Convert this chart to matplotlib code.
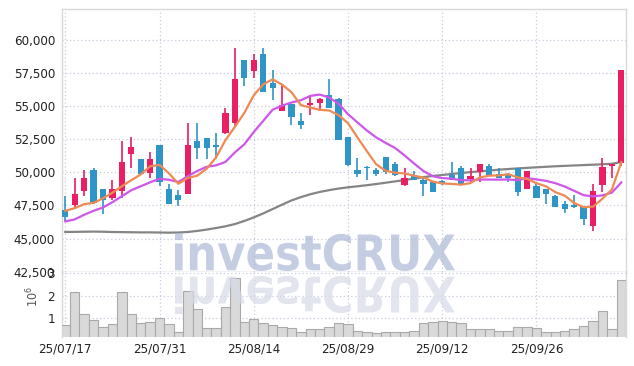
import matplotlib
matplotlib.use("Agg")
import matplotlib.pyplot as plt
import numpy as np
from matplotlib.textpath import TextPath
from matplotlib.patches import PathPatch
from matplotlib.font_manager import FontProperties
from matplotlib.transforms import Affine2D

# daily OHLC (KRW)
opens = [47150, 47500, 48600, 50200, 48750, 48100, 48600, 51400, 51000, 49950,
         52050, 48750, 48300, 48400, 52400, 52600, 52050, 52950, 53700, 58450,
         57650, 58950, 56750, 54600, 55150, 53900, 55050, 55200, 55850, 55500,
         52650, 50200, 50400, 50150, 51150, 50650, 49050, 49750, 49400, 49300,
         49350, 49800, 50300, 49500, 50000, 50500, 49900, 49800, 50300, 48750,
         49000, 48750, 48200, 47650, 47500, 47400, 45950, 49050, 50450, 50700]
highs = [48250, 49550, 50150, 50300, 48750, 49400, 52400, 52700, 51000, 51550,
         52050, 49100, 48700, 53700, 53700, 52600, 52950, 54850, 59350, 58450,
         58950, 59350, 57750, 56700, 55150, 54450, 55850, 55600, 57050, 55600,
         52650, 51100, 50450, 50300, 51150, 50750, 50300, 50100, 49600, 49300,
         49400, 50800, 50450, 50350, 50650, 50600, 50350, 49950, 50300, 50100,
         49100, 48750, 48300, 47850, 48300, 47400, 49100, 51100, 50650, 57700]
lows = [46350, 47350, 48250, 47650, 46850, 47900, 48100, 50350, 49850, 49550,
        49000, 47650, 47450, 48350, 51000, 51000, 51000, 52900, 53400, 56550,
        57100, 56050, 55450, 54600, 53550, 53250, 54350, 54650, 54850, 52450,
        50450, 49650, 49400, 49700, 49850, 49750, 49000, 49450, 48250, 48500,
        49050, 49450, 49150, 49300, 49300, 49750, 49550, 49250, 48250, 48750,
        48050, 47600, 47400, 46900, 47300, 46000, 45550, 48500, 49600, 50450]
closes = [46600, 48400, 49600, 47700, 47900, 48750, 50800, 51900, 49850, 51000,
          49250, 47650, 47950, 52050, 51850, 51850, 51950, 54500, 57050, 57100,
          58500, 56050, 56400, 55100, 54200, 53600, 55200, 55500, 54850, 52450,
          50550, 49850, 50300, 49850, 50050, 49800, 49600, 49450, 49150, 48500,
          49100, 49450, 49150, 49750, 50650, 49750, 49550, 49600, 48550, 50100,
          48100, 48400, 47400, 47200, 47350, 46500, 48600, 50400, 50650, 57700]

# moving average lines as drawn
ma5 = [47100, 47300, 47600, 47700, 48040, 48470, 48950, 49410, 49840, 50460,
       50560, 49930, 49140, 49580, 49750, 50270, 51130, 52440, 53440, 54490,
       55820, 56640, 57020, 56630, 56050, 55070, 54900, 54720, 54670, 54320,
       53710, 52640, 51600, 50600, 50120, 49970, 49920, 49750, 49610, 49300,
       49160, 49130, 49070, 49190, 49620, 49750, 49770, 49860, 49620, 49510,
       49180, 48950, 48510, 48240, 47690, 47370, 47410, 48010, 48700, 50770]
ma10 = [46300, 46450, 46800, 47100, 47350, 47750, 48200, 48650, 48950, 49250,
        49515, 49440, 49275, 49710, 50105, 50415, 50530, 50790, 51510, 52120,
        53045, 53885, 54730, 55035, 55270, 55445, 55770, 55870, 55650, 55185,
        54390, 53770, 53160, 52635, 52220, 51840, 51280, 50675, 50105, 49710,
        49565, 49525, 49410, 49400, 49460, 49455, 49450, 49465, 49405, 49565,
        49465, 49360, 49185, 48930, 48605, 48280, 48185, 48265, 48475, 49235]
ma_long = [45500, 45510, 45520, 45530, 45520, 45500, 45490, 45480, 45470, 45470,
           45460, 45450, 45460, 45500, 45580, 45680, 45800, 45930, 46100, 46330,
           46600, 46900, 47230, 47560, 47880, 48130, 48350, 48520, 48660, 48780,
           48870, 48950, 49030, 49120, 49220, 49320, 49420, 49530, 49640, 49730,
           49800, 49880, 49950, 50020, 50080, 50140, 50200, 50250, 50300, 50340,
           50380, 50420, 50460, 50490, 50520, 50550, 50580, 50610, 50650, 50780]

# volume in millions of shares
volume = [0.70, 2.15, 1.18, 0.91, 0.62, 0.73, 2.15, 1.18, 0.78, 0.82,
          1.01, 0.75, 0.38, 2.21, 1.41, 0.56, 0.56, 1.49, 2.77, 0.85,
          0.96, 0.78, 0.70, 0.63, 0.58, 0.38, 0.51, 0.51, 0.63, 0.78,
          0.73, 0.42, 0.38, 0.34, 0.38, 0.38, 0.38, 0.42, 0.78, 0.82,
          0.88, 0.82, 0.78, 0.51, 0.51, 0.51, 0.42, 0.42, 0.60, 0.60,
          0.56, 0.38, 0.38, 0.42, 0.51, 0.66, 0.88, 1.31, 0.51, 2.69]

date_labels = ["25/07/17", "25/07/31", "25/08/14", "25/08/29", "25/09/12", "25/09/26"]
date_ticks = [0, 10, 20, 30, 40, 50]

UP = "#e91e63"
DOWN = "#2f94c6"
GRID = "#c9cce0"
SPINE = "#d8d8d8"

plt.rcParams["font.family"] = ["DejaVu Sans"]
plt.rcParams["font.stretch"] = "condensed"

W, H = 634, 366
fig = plt.figure(figsize=(W / 100, H / 100), dpi=100)
ax = fig.add_axes([62 / W, 1 - 272 / H, 564 / W, 263 / H])
axv = fig.add_axes([62 / W, 1 - 337 / H, 564 / W, 65 / H], sharex=ax)

x = np.arange(len(closes))
o = np.array(opens)
c = np.array(closes)
up = c >= o
cols = np.where(up, UP, DOWN)

ax.vlines(x, lows, highs, colors=cols, linewidth=1.2, zorder=3)
body_h = np.maximum(np.abs(c - o), 60)
ax.bar(x, body_h, bottom=np.minimum(o, c), width=0.66, color=cols, zorder=4)

ax.plot(x, ma_long, color="#858585", linewidth=1.6, zorder=2)
ax.plot(x, ma10, color="#cf56ea", linewidth=1.6, zorder=5)
ax.plot(x, ma5, color="#ee8a52", linewidth=1.6, zorder=5)

ax.set_xlim(-0.35, 59.5)
ax.set_ylim(42480, 62330)
ax.set_yticks(np.arange(42500, 60001, 2500))
ax.set_yticklabels([f"{v:,}" for v in range(42500, 60001, 2500)])

axv.bar(x, np.array(volume) * 1e6, width=1.0, color="#d9d9d9",
        edgecolor="#a9a9a9", linewidth=0.8, zorder=3)
axv.set_ylim(0.17e6, 3.05e6)
axv.set_yticks([1e6, 2e6, 3e6])
axv.set_yticklabels(["1", "2", "3"])
axv.set_xticks(date_ticks)
axv.set_xticklabels(date_labels)

for a in (ax, axv):
    a.grid(True, color=GRID, linestyle=(0, (1, 2)), linewidth=0.9)
    a.set_axisbelow(True)
    a.tick_params(length=0, labelsize=9.5, colors="#222222", pad=5)
    for s in a.spines.values():
        s.set_color(SPINE)
        s.set_linewidth(1.0)
ax.tick_params(axis="x", labelbottom=False)
ax.spines["bottom"].set_color("#c8c8c8")
axv.spines["top"].set_visible(False)
axv.spines["bottom"].set_visible(False)
axv.tick_params(axis="x", pad=4)

fig.text(33 / W, 1 - 297 / H, r"$10^6$", rotation=90, ha="center", va="center",
         fontsize=9, color="#555555")

# watermark with reflection
tp = TextPath((0, 0), "investCRUX", size=100,
              prop=FontProperties(family="DejaVu Sans", weight="bold"))
ext = tp.get_extents()
sx = 280 / ext.width
sy = 38 / ext.height
t_main = Affine2D().translate(-ext.x0, -ext.y0).scale(sx, sy).translate(175, H - 271)
t_refl = Affine2D().translate(-ext.x0, -ext.y0).scale(sx, -sy).translate(175, H - 276)
fig.add_artist(PathPatch(tp, transform=t_main, facecolor="#acb8d7",
                         edgecolor="none", alpha=0.7, zorder=6))
fig.add_artist(PathPatch(tp, transform=t_refl, facecolor="#d7dae7",
                         edgecolor="none", alpha=0.7, zorder=6))

fig.savefig("out.png", dpi=100)
